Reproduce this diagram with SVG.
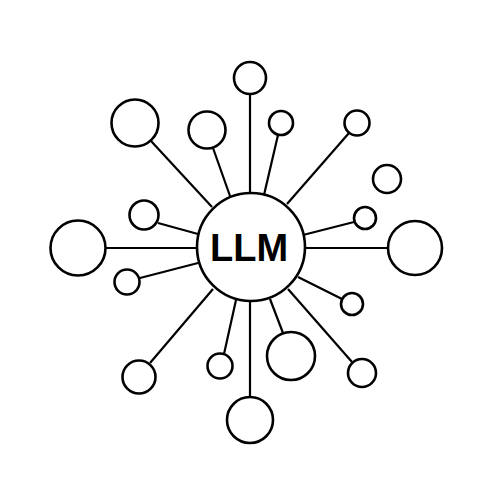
<svg xmlns="http://www.w3.org/2000/svg" width="500" height="500" viewBox="0 0 500 500">
<style>
.n{fill:#fff;stroke:#000;stroke-width:2.6}
.c line{stroke:#000;stroke-width:2.2}
.t{font-family:"Liberation Sans",Arial,sans-serif;font-weight:bold;font-size:38px;fill:#000;text-anchor:middle}
</style>
<rect width="500" height="500" fill="#fff"/>
<g class="c" id="connectors">
<line x1="250" y1="94" x2="250" y2="195"/>
<line x1="151" y1="141" x2="212" y2="207"/>
<line x1="213" y1="148" x2="230" y2="196"/>
<line x1="158" y1="223" x2="198" y2="234"/>
<line x1="105" y1="248" x2="198" y2="248"/>
<line x1="140" y1="278" x2="198" y2="263"/>
<line x1="150" y1="363" x2="213" y2="289"/>
<line x1="224" y1="354" x2="236" y2="300"/>
<line x1="250" y1="397" x2="250" y2="300"/>
<line x1="283" y1="333" x2="270" y2="299"/>
<line x1="352" y1="362" x2="288" y2="289"/>
<line x1="342" y1="299" x2="298" y2="277"/>
<line x1="304" y1="248" x2="388" y2="248"/>
<line x1="354" y1="222" x2="303" y2="235"/>
<line x1="349" y1="133" x2="287" y2="204"/>
<line x1="278" y1="135" x2="264" y2="195"/>
</g>
<g id="llm"><circle class="n" cx="251" cy="247" r="54"/><text class="t" x="249" y="261">LLM</text></g>
<g id="n1"><circle class="n" cx="250" cy="78" r="16"/></g>
<g id="n2"><circle class="n" cx="135" cy="123" r="23.5"/></g>
<g id="n3"><circle class="n" cx="207" cy="130" r="18.5"/></g>
<g id="n4"><circle class="n" cx="144" cy="215" r="14.5"/></g>
<g id="n5"><circle class="n" cx="78" cy="248" r="27.5"/></g>
<g id="n6"><circle class="n" cx="127" cy="282" r="12.5"/></g>
<g id="n7"><circle class="n" cx="139" cy="377" r="16.5"/></g>
<g id="n8"><circle class="n" cx="220" cy="366" r="12.5"/></g>
<g id="n9"><circle class="n" cx="250" cy="420" r="23"/></g>
<g id="n10"><circle class="n" cx="291" cy="356" r="24"/></g>
<g id="n11"><circle class="n" cx="362" cy="373" r="14"/></g>
<g id="n12"><circle class="n" cx="352" cy="304" r="11"/></g>
<g id="n13"><circle class="n" cx="415" cy="248" r="27"/></g>
<g id="n14"><circle class="n" cx="365" cy="218" r="11"/></g>
<g id="n15"><circle class="n" cx="387" cy="179" r="14"/></g>
<g id="n16"><circle class="n" cx="357" cy="123" r="12.5"/></g>
<g id="n17"><circle class="n" cx="281" cy="123" r="12"/></g>
</svg>
